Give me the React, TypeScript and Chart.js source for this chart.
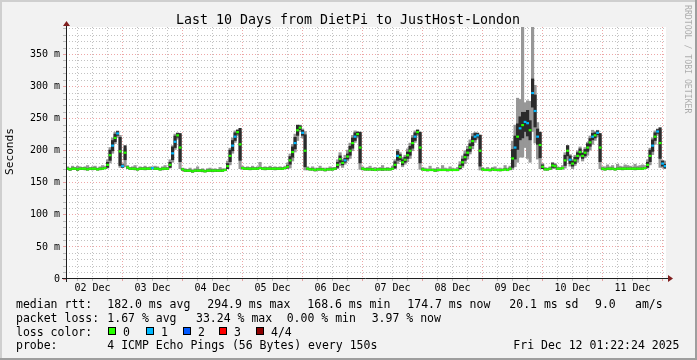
import React, { useEffect, useRef } from "react";
import { Chart, registerables } from "chart.js";

Chart.register(...registerables);

// ---------- data ----------
const TITLE = "Last 10 Days from DietPi to JustHost-London";
const Y_TITLE = "Seconds";
const WATERMARK = "RRDTOOL / TOBI OETIKER";

// window: Dec 2 01:22 .. Dec 12 01:22 (hours counted from Dec 2 00:00)
const START_HOUR = 1 + 22 / 60;
const END_HOUR = START_HOUR + 240;
const FIRST_SAMPLE_HOUR = 2;

const dayLabels = ["02 Dec", "03 Dec", "04 Dec", "05 Dec", "06 Dec", "07 Dec", "08 Dec", "09 Dec", "10 Dec", "11 Dec"];
const yLabelValues = [0, 50, 100, 150, 200, 250, 300, 350];

// median rtt (ms), one value per hour
const median02 = [172, 171, 172, 172, 171, 172, 172, 172, 171, 172, 172, 172, 171, 172, 172, 173, 178, 193, 208, 220, 227, 199];
const median03 = [176, 197, 174, 172, 172, 172, 171, 172, 172, 172, 172, 172, 173, 172, 172, 171, 172, 172, 172, 178, 196, 214, 224, 205];
const median04 = [171, 169, 169, 169, 168, 169, 169, 169, 169, 168, 169, 169, 169, 169, 169, 169, 169, 170, 176, 192, 208, 222, 229, 210];
const median05 = [173, 172, 172, 172, 172, 172, 172, 173, 172, 172, 172, 172, 172, 172, 172, 172, 172, 173, 175, 185, 198, 212, 232, 236];
const median06 = [228, 200, 172, 171, 171, 170, 171, 171, 171, 170, 171, 171, 171, 172, 178, 187, 181, 185, 191, 200, 212, 222, 226, 205];
const median07 = [172, 171, 171, 171, 171, 170, 171, 171, 171, 171, 171, 171, 172, 178, 192, 190, 182, 186, 193, 200, 212, 222, 229, 205];
const median08 = [171, 170, 170, 170, 170, 169, 170, 170, 170, 170, 170, 170, 170, 170, 170, 175, 182, 190, 197, 205, 215, 222, 224, 200];
const median09 = [171, 170, 170, 170, 171, 170, 170, 170, 170, 171, 170, 172, 188, 205, 222, 235, 240, 245, 243, 232, 290, 262, 222, 209];
const median10 = [175, 171, 171, 172, 177, 176, 172, 172, 173, 185, 200, 186, 180, 185, 192, 198, 192, 197, 205, 213, 222, 224, 228, 205];
const median11 = [172, 171, 172, 172, 172, 171, 172, 172, 172, 172, 172, 172, 172, 172, 172, 172, 172, 173, 178, 192, 208, 222, 230, 212];
const median12 = [180, 176];

// light smoke: ms above / below the median (slowest / fastest ping)
const smokeUp = [
  3, 2, 4, 2, 5, 3, 2, 3, 6, 2, 3, 4, 2, 3, 5, 3, 8, 12, 12, 9, 4, 25,
  4, 6, 3, 2, 3, 5, 2, 3, 2, 4, 2, 3, 2, 4, 3, 2, 3, 5, 2, 8, 12, 12, 4, 20,
  2, 3, 2, 4, 2, 3, 6, 2, 3, 2, 3, 4, 2, 3, 2, 5, 3, 2, 8, 12, 12, 9, 4, 20,
  3, 2, 3, 2, 4, 2, 3, 9, 2, 3, 2, 4, 2, 3, 2, 3, 2, 3, 6, 10, 12, 14, 6, 4,
  6, 30, 3, 2, 4, 3, 2, 5, 2, 3, 2, 4, 3, 2, 8, 10, 6, 8, 10, 12, 12, 9, 4, 22,
  3, 2, 3, 5, 2, 4, 2, 3, 6, 2, 3, 2, 4, 8, 10, 7, 7, 7, 10, 12, 12, 9, 4, 22,
  3, 3, 2, 6, 2, 3, 4, 2, 7, 3, 2, 5, 3, 2, 4, 8, 10, 10, 10, 12, 12, 7, 4, 25,
  3, 2, 4, 2, 3, 5, 2, 3, 2, 6, 3, 4, 27, 35, 60, 45, 200, 30, 35, 45, 150, 40, 22, 18,
  5, 3, 2, 3, 5, 4, 3, 2, 4, 12, 8, 8, 6, 8, 8, 8, 6, 8, 8, 10, 10, 6, 4, 20,
  3, 4, 6, 3, 5, 2, 7, 4, 3, 6, 5, 4, 3, 7, 4, 5, 6, 4, 8, 12, 12, 9, 4, 20,
  5, 8,
];
const smokeDown = [
  1, 2, 1, 1, 2, 1, 1, 2, 1, 1, 2, 1, 1, 2, 1, 1, 5, 12, 12, 9, 6, 25,
  2, 22, 2, 1, 1, 2, 1, 1, 1, 2, 1, 1, 2, 1, 1, 1, 2, 1, 1, 5, 14, 12, 6, 33,
  2, 1, 1, 1, 2, 1, 1, 1, 2, 1, 1, 1, 2, 1, 1, 1, 1, 1, 4, 14, 12, 9, 6, 38,
  2, 1, 1, 2, 1, 1, 1, 1, 1, 2, 1, 1, 1, 2, 1, 1, 1, 1, 3, 12, 14, 14, 16, 6,
  8, 30, 2, 1, 1, 2, 1, 1, 1, 2, 1, 1, 1, 1, 6, 10, 7, 6, 7, 12, 12, 9, 6, 34,
  2, 1, 1, 1, 2, 1, 1, 1, 2, 1, 1, 1, 1, 6, 12, 7, 7, 7, 10, 12, 12, 9, 6, 34,
  1, 1, 2, 1, 1, 1, 2, 1, 1, 1, 2, 1, 1, 1, 1, 4, 8, 10, 10, 10, 12, 9, 6, 30,
  1, 1, 1, 2, 1, 1, 1, 2, 1, 1, 1, 2, 17, 30, 40, 45, 50, 40, 55, 50, 60, 50, 35, 37,
  3, 1, 1, 1, 5, 4, 1, 1, 2, 12, 15, 10, 8, 8, 10, 8, 8, 8, 12, 12, 12, 8, 6, 33,
  2, 1, 1, 2, 1, 1, 1, 1, 2, 1, 1, 1, 1, 2, 1, 1, 1, 1, 5, 14, 14, 12, 6, 38,
  6, 4,
];
// dark smoke: half width (ms) of the band between the middle pings
const darkHalf = [
  1, 1, 1, 1, 1, 1, 1, 1, 1, 1, 1, 1, 1, 1, 1, 1, 4, 8, 8, 6, 3, 22,
  2, 11, 1, 1, 1, 1, 1, 1, 1, 1, 1, 1, 1, 1, 1, 1, 1, 1, 1, 4, 10, 9, 3, 22,
  1, 1, 1, 1, 1, 1, 1, 1, 1, 1, 1, 1, 1, 1, 1, 1, 1, 1, 4, 9, 8, 6, 3, 25,
  1, 1, 1, 1, 1, 1, 1, 1, 1, 1, 1, 1, 1, 1, 1, 1, 1, 1, 2, 6, 8, 9, 8, 3,
  4, 25, 1, 1, 1, 1, 1, 1, 1, 1, 1, 1, 1, 1, 4, 5, 3, 3, 4, 7, 8, 6, 3, 24,
  1, 1, 1, 1, 1, 1, 1, 1, 1, 1, 1, 1, 1, 5, 7, 4, 4, 4, 5, 7, 8, 6, 3, 24,
  1, 1, 1, 1, 1, 1, 1, 1, 1, 1, 1, 1, 1, 1, 1, 3, 5, 5, 5, 6, 7, 5, 3, 24,
  1, 1, 1, 1, 1, 1, 1, 1, 1, 1, 1, 1, 14, 18, 20, 18, 20, 15, 20, 15, 22, 25, 12, 20,
  3, 1, 1, 1, 3, 2, 1, 1, 1, 8, 8, 6, 4, 5, 5, 5, 4, 5, 6, 6, 5, 4, 3, 22,
  1, 1, 1, 1, 1, 1, 1, 1, 1, 1, 1, 1, 1, 1, 1, 1, 1, 1, 4, 9, 9, 6, 3, 24,
  4, 3,
];
// hours (from Dec 2 00:00) in which 1 of 4 pings was lost
const lossOneHours = [20, 22, 24, 36, 44, 45, 68, 69, 93, 96, 113, 117, 134, 141, 165, 166, 181, 183, 185, 186, 188, 189, 190, 203, 212, 214, 236, 238, 240, 241];

const medianStats = ["182.0 ms avg", "294.9 ms max", "168.6 ms min", "174.7 ms now", "20.1 ms sd", "9.0", "am/s"];
const lossStats = ["1.67 % avg", "33.24 % max", "0.00 % min", "3.97 % now"];
const lossLegend = ["0", "1", "2", "3", "4/4"];
const lossColors = ["#26ff00", "#00b8ff", "#0059ff", "#ff0000", "#8c0000"];
const probeText = "4 ICMP Echo Pings (56 Bytes) every 150s";
const dateText = "Fri Dec 12 01:22:24 2025";

// ---------- derived ----------
const medianMs = [...median02, ...median03, ...median04, ...median05, ...median06, ...median07, ...median08, ...median09, ...median10, ...median11, ...median12];
const sampleHours = medianMs.map((_, i) => FIRST_SAMPLE_HOUR + i);

const FONT = '"DejaVu Sans Mono", monospace';
const C_GRID = "rgba(143,143,143,0.55)";
const C_MGRID = "rgba(222,79,79,0.5)";
const C_ARROW = "rgb(128,31,31)";
const C_AXIS = "rgb(31,31,31)";

const rrdPlugin = {
  id: "rrdLook",
  beforeDraw(chart: any) {
    const { ctx, chartArea: a, width, height } = chart;
    ctx.save();
    ctx.fillStyle = "#f2f2f2";
    ctx.fillRect(0, 0, width, height);
    ctx.fillStyle = "#cfcfcf";
    ctx.fillRect(0, 0, width, 2);
    ctx.fillRect(0, 0, 2, height);
    ctx.fillStyle = "#9e9e9e";
    ctx.fillRect(0, height - 2, width, 2);
    ctx.fillRect(width - 2, 0, 2, height);
    ctx.fillStyle = "#ffffff";
    ctx.fillRect(a.left, a.top, a.right - a.left, a.bottom - a.top);
    ctx.restore();
  },
  afterDatasetsDraw(chart: any) {
    const { ctx, chartArea: a } = chart;
    const y0 = Math.round(chart.scales.y.getPixelForValue(0)) - 0.5;
    const xl = Math.round(a.left) + 0.5;
    ctx.save();
    ctx.strokeStyle = C_AXIS;
    ctx.lineWidth = 1;
    ctx.beginPath();
    ctx.moveTo(a.left - 4, y0);
    ctx.lineTo(a.right + 3, y0);
    ctx.moveTo(xl, a.bottom + 3);
    ctx.lineTo(xl, a.top - 3);
    ctx.stroke();
    ctx.fillStyle = C_ARROW;
    ctx.beginPath();
    ctx.moveTo(a.right + 2, y0 - 3.5);
    ctx.lineTo(a.right + 7, y0);
    ctx.lineTo(a.right + 2, y0 + 3.5);
    ctx.closePath();
    ctx.fill();
    ctx.beginPath();
    ctx.moveTo(xl - 3.5, a.top - 1);
    ctx.lineTo(xl, a.top - 6);
    ctx.lineTo(xl + 3.5, a.top - 1);
    ctx.closePath();
    ctx.fill();
    ctx.restore();
  },
  afterDraw(chart: any) {
    const { ctx, width } = chart;
    ctx.save();
    ctx.fillStyle = "#000";
    ctx.textBaseline = "alphabetic";
    // title
    ctx.font = `13.3px ${FONT}`;
    ctx.textAlign = "center";
    ctx.fillText(TITLE, 348, 24);
    // y title
    ctx.save();
    ctx.font = `11.2px ${FONT}`;
    ctx.translate(10, 151.5);
    ctx.rotate(-Math.PI / 2);
    ctx.textBaseline = "middle";
    ctx.fillText(Y_TITLE, 0, 0);
    ctx.restore();
    // watermark
    ctx.save();
    ctx.font = `8.2px ${FONT}`;
    ctx.fillStyle = "rgba(0,0,0,0.3)";
    ctx.translate(width - 9.5, 5);
    ctx.rotate(Math.PI / 2);
    ctx.textAlign = "left";
    ctx.textBaseline = "middle";
    ctx.fillText(WATERMARK, 0, 0);
    ctx.restore();
    // legend
    ctx.font = `11.5px ${FONT}`;
    ctx.textAlign = "left";
    const rows = [307.5, 321.5, 335.5, 349.3];
    ctx.fillText("median rtt:", 16, rows[0]);
    const mx = [107.3, 207.3, 307.3, 407.3, 509.3, 595, 635];
    medianStats.forEach((t, i) => ctx.fillText(t, mx[i], rows[0]));
    ctx.fillText("packet loss:", 16, rows[1]);
    const lx = [107.3, 196, 286.7, 371.7];
    lossStats.forEach((t, i) => ctx.fillText(t, lx[i], rows[1]));
    ctx.fillText("loss color:", 16, rows[2]);
    const bx = [108.3, 145.5, 182.5, 219.3, 256];
    lossLegend.forEach((t, i) => {
      const x = Math.round(bx[i]);
      ctx.fillStyle = lossColors[i];
      ctx.fillRect(x, 327, 8, 8);
      ctx.strokeStyle = "#000";
      ctx.lineWidth = 1;
      ctx.strokeRect(x + 0.5, 327.5, 7, 7);
      ctx.fillStyle = "#000";
      ctx.fillText(t, x + 15, rows[2]);
    });
    ctx.fillText("probe:", 16, rows[3]);
    ctx.fillText(probeText, 107.3, rows[3]);
    ctx.fillText(dateText, 513.3, rows[3]);
    ctx.restore();
  },
};

export default function App() {
  const ref = useRef<HTMLCanvasElement | null>(null);
  useEffect(() => {
    document.body.style.margin = "0";
    const canvas = ref.current;
    if (!canvas) return;
    const lossSet = new Set(lossOneHours);
    const pointColors = sampleHours.map((h) => (lossSet.has(h) ? lossColors[1] : lossColors[0]));

    const chart = new Chart(canvas, {
      type: "bar",
      data: {
        datasets: [
          {
            type: "line",
            label: "median",
            data: sampleHours.map((h, i) => ({ x: h, y: medianMs[i] })),
            showLine: false,
            pointStyle: "line",
            pointRadius: 1.4,
            pointHoverRadius: 1.4,
            pointBorderWidth: 2.2,
            pointBorderColor: pointColors,
            pointBackgroundColor: pointColors,
            order: 1,
          } as any,
          {
            type: "bar",
            label: "dark smoke",
            data: sampleHours.map((h, i) => ({ x: h, y: [medianMs[i] - darkHalf[i], medianMs[i] + darkHalf[i]] })),
            backgroundColor: "#2b2b2b",
            borderWidth: 0,
            barPercentage: 1,
            categoryPercentage: 1,
            grouped: false,
            order: 2,
          } as any,
          {
            type: "bar",
            label: "light smoke",
            data: sampleHours.map((h, i) => ({ x: h, y: [medianMs[i] - smokeDown[i], medianMs[i] + smokeUp[i]] })),
            backgroundColor: "#979797",
            borderWidth: 0,
            barPercentage: 1,
            categoryPercentage: 1,
            grouped: false,
            order: 3,
          } as any,
        ],
      },
      options: {
        responsive: false,
        animation: false,
        devicePixelRatio: 1,
        events: [],
        layout: { padding: { left: 0, top: 27, right: 31, bottom: 61 } },
        plugins: { legend: { display: false }, tooltip: { enabled: false }, title: { display: false } },
        scales: {
          x: {
            type: "linear",
            min: START_HOUR,
            max: END_HOUR,
            offset: false,
            afterFit: (s: any) => {
              s.height = 20;
            },
            afterBuildTicks: (s: any) => {
              const t = [];
              for (let h = 6; h <= 240; h += 6) t.push({ value: h });
              s.ticks = t;
            },
            ticks: {
              autoSkip: false,
              maxRotation: 0,
              minRotation: 0,
              padding: 1,
              color: "#000",
              font: { family: "DejaVu Sans Mono", size: 10 },
              callback: (v: any) => (v % 24 === 12 ? dayLabels[(v - 12) / 24] : ""),
            },
            grid: {
              offset: false,
              lineWidth: 1,
              drawTicks: true,
              tickLength: 2,
              color: (c: any) => (c.tick && c.tick.value % 24 === 0 ? C_MGRID : C_GRID),
              tickColor: (c: any) => (c.tick && c.tick.value % 24 === 0 ? C_MGRID : C_GRID),
            },
            border: { display: false, dash: [1, 2] },
          },
          y: {
            type: "linear",
            min: 0,
            max: 393,
            afterFit: (s: any) => {
              s.width = 66;
            },
            afterBuildTicks: (s: any) => {
              const t = [];
              for (let v = 0; v <= 390; v += 10) t.push({ value: v });
              s.ticks = t;
            },
            ticks: {
              autoSkip: false,
              padding: 3,
              color: "#000",
              font: { family: "DejaVu Sans Mono", size: 10 },
              callback: (v: any) => (yLabelValues.includes(v) ? (v === 0 ? "0" : `${v} m`) : ""),
            },
            grid: {
              lineWidth: 1,
              drawTicks: true,
              tickLength: 3,
              color: (c: any) =>
                c.tick && c.tick.value === 0 ? "rgba(0,0,0,0)" : c.tick && c.tick.value % 50 === 0 ? C_MGRID : C_GRID,
              tickColor: (c: any) => (c.tick && c.tick.value % 50 === 0 ? C_MGRID : C_GRID),
            },
            border: { display: false, dash: [1, 2] },
          },
        },
      },
      plugins: [rrdPlugin],
    } as any);
    return () => chart.destroy();
  }, []);

  return <canvas ref={ref} width={697} height={360} style={{ display: "block" }} />;
}
